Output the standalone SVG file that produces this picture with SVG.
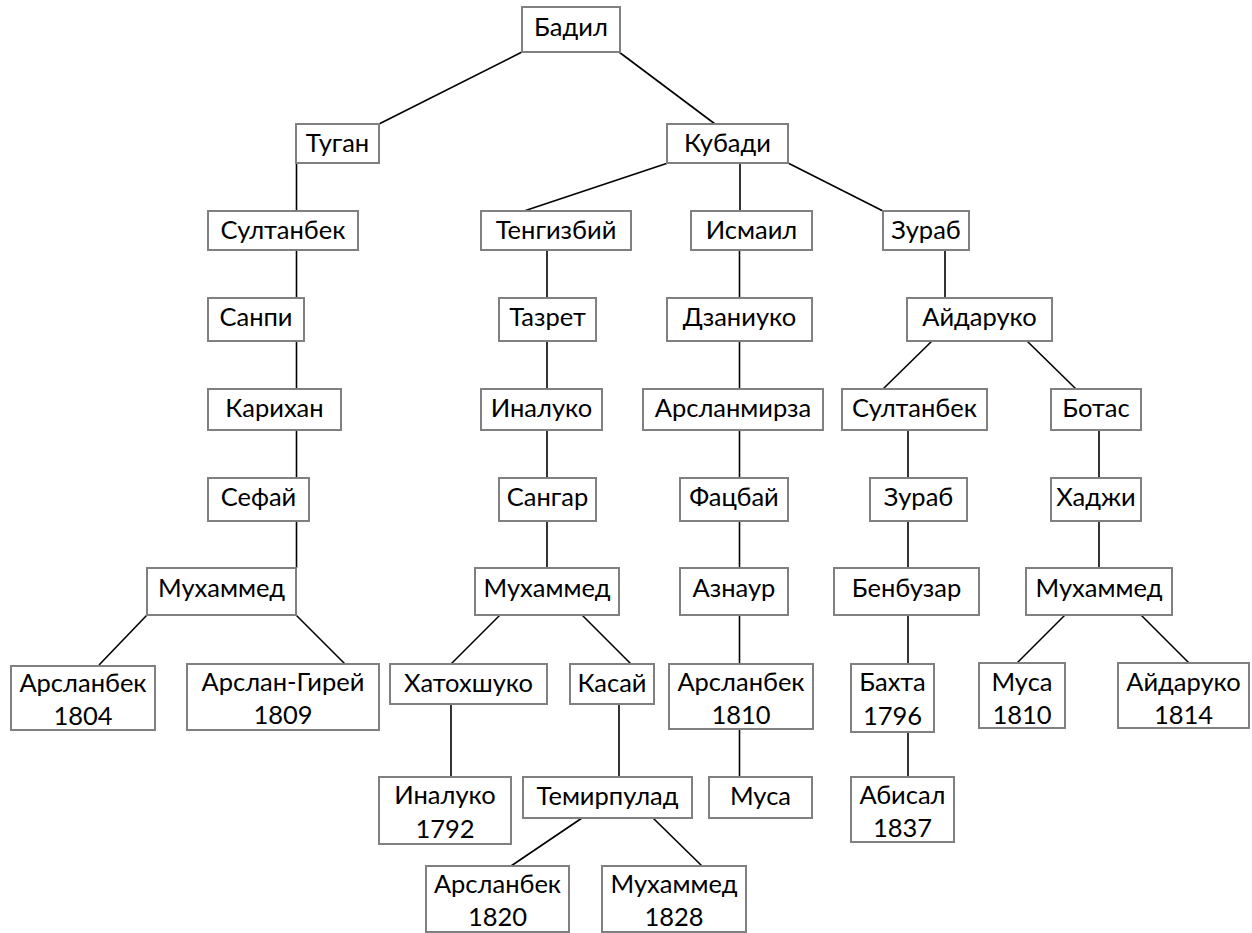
<svg xmlns="http://www.w3.org/2000/svg" width="1252" height="933" viewBox="0 0 1252 933">
<style>
.b{fill:#fff;stroke:#808080;stroke-width:2}
.t{font-family:Lato,"Open Sans","Liberation Sans",sans-serif;font-size:25.5px;fill:#000;text-anchor:middle}
#edges line{stroke:#000;stroke-width:1.6}
</style>
<rect width="1252" height="933" fill="#fff"/>
<g id="edges">
<line x1="522" y1="52" x2="379" y2="124"/>
<line x1="619" y1="52" x2="715" y2="124"/>
<line x1="296.5" y1="163" x2="296.5" y2="211"/>
<line x1="296.5" y1="250" x2="296.5" y2="298"/>
<line x1="296.5" y1="341" x2="296.5" y2="389"/>
<line x1="296.5" y1="430" x2="296.5" y2="478"/>
<line x1="296.5" y1="521" x2="296.5" y2="568"/>
<line x1="147" y1="615" x2="99" y2="665"/>
<line x1="296" y1="615" x2="345" y2="664"/>
<line x1="668" y1="163" x2="524" y2="211"/>
<line x1="740" y1="163" x2="740" y2="211"/>
<line x1="788" y1="163" x2="883" y2="211"/>
<line x1="547" y1="250" x2="547" y2="298"/>
<line x1="547" y1="341" x2="547" y2="389"/>
<line x1="547" y1="430" x2="547" y2="478"/>
<line x1="547" y1="521" x2="547" y2="568"/>
<line x1="500" y1="615" x2="451" y2="664"/>
<line x1="582" y1="615" x2="631" y2="664"/>
<line x1="451" y1="704" x2="451" y2="777"/>
<line x1="619" y1="704" x2="619" y2="777"/>
<line x1="582" y1="818" x2="511" y2="866"/>
<line x1="653" y1="818" x2="702" y2="866"/>
<line x1="739.5" y1="250" x2="739.5" y2="298"/>
<line x1="739.5" y1="341" x2="739.5" y2="389"/>
<line x1="739.5" y1="430" x2="739.5" y2="478"/>
<line x1="739.5" y1="521" x2="739.5" y2="568"/>
<line x1="739.5" y1="615" x2="739.5" y2="664"/>
<line x1="739.5" y1="729" x2="739.5" y2="777"/>
<line x1="945" y1="250" x2="945" y2="298"/>
<line x1="932" y1="341" x2="883" y2="389"/>
<line x1="1027" y1="341" x2="1076" y2="389"/>
<line x1="908" y1="430" x2="908" y2="478"/>
<line x1="908" y1="521" x2="908" y2="568"/>
<line x1="908" y1="615" x2="908" y2="664"/>
<line x1="908" y1="732" x2="908" y2="777"/>
<line x1="1099" y1="430" x2="1099" y2="478"/>
<line x1="1099" y1="521" x2="1099" y2="568"/>
<line x1="1065" y1="615" x2="1017" y2="663"/>
<line x1="1141" y1="615" x2="1189" y2="663"/>
</g>
<g id="n1"><rect class="b" x="522" y="7" width="98" height="45"/><text class="t" x="571" y="36">Бадил</text></g>
<g id="n2"><rect class="b" x="296" y="124" width="83" height="39"/><text class="t" x="337.5" y="152">Туган</text></g>
<g id="n3"><rect class="b" x="667" y="124" width="121" height="39"/><text class="t" x="727.5" y="152">Кубади</text></g>
<g id="n4"><rect class="b" x="208" y="211" width="150" height="39"/><text class="t" x="283" y="239">Султанбек</text></g>
<g id="n5"><rect class="b" x="208" y="298" width="96" height="43"/><text class="t" x="256" y="326">Санпи</text></g>
<g id="n6"><rect class="b" x="208" y="389" width="133" height="41"/><text class="t" x="274.5" y="417">Карихан</text></g>
<g id="n7"><rect class="b" x="208" y="478" width="101" height="43"/><text class="t" x="258.5" y="506">Сефай</text></g>
<g id="n8"><rect class="b" x="147" y="568" width="149" height="47"/><text class="t" x="221.5" y="597">Мухаммед</text></g>
<g id="n9"><rect class="b" x="11" y="666" width="144" height="64"/><text class="t" x="83" y="692">Арсланбек</text><text class="t" x="83" y="725">1804</text></g>
<g id="n10"><rect class="b" x="187" y="664" width="192" height="66"/><text class="t" x="283" y="691">Арслан-Гирей</text><text class="t" x="283" y="724">1809</text></g>
<g id="n11"><rect class="b" x="481" y="211" width="150" height="39"/><text class="t" x="556" y="239">Тенгизбий</text></g>
<g id="n12"><rect class="b" x="691" y="211" width="121" height="39"/><text class="t" x="751.5" y="239">Исмаил</text></g>
<g id="n13"><rect class="b" x="883" y="211" width="86" height="39"/><text class="t" x="926" y="239">Зураб</text></g>
<g id="n14"><rect class="b" x="499" y="298" width="97" height="43"/><text class="t" x="547.5" y="326">Тазрет</text></g>
<g id="n15"><rect class="b" x="667" y="298" width="145" height="43"/><text class="t" x="739.5" y="326">Дзаниуко</text></g>
<g id="n16"><rect class="b" x="907" y="298" width="145" height="43"/><text class="t" x="979.5" y="326">Айдаруко</text></g>
<g id="n17"><rect class="b" x="481" y="389" width="121" height="41"/><text class="t" x="541.5" y="417">Иналуко</text></g>
<g id="n18"><rect class="b" x="643" y="389" width="180" height="41"/><text class="t" x="733" y="417">Арсланмирза</text></g>
<g id="n19"><rect class="b" x="842" y="389" width="145" height="41"/><text class="t" x="914.5" y="417">Султанбек</text></g>
<g id="n20"><rect class="b" x="1051" y="389" width="90" height="41"/><text class="t" x="1096" y="417">Ботас</text></g>
<g id="n21"><rect class="b" x="499" y="478" width="97" height="43"/><text class="t" x="547.5" y="506">Сангар</text></g>
<g id="n22"><rect class="b" x="680" y="478" width="108" height="43"/><text class="t" x="734" y="506">Фацбай</text></g>
<g id="n23"><rect class="b" x="870" y="478" width="97" height="43"/><text class="t" x="918.5" y="506">Зураб</text></g>
<g id="n24"><rect class="b" x="1051" y="478" width="90" height="43"/><text class="t" x="1096" y="506">Хаджи</text></g>
<g id="n25"><rect class="b" x="475" y="568" width="144" height="47"/><text class="t" x="547" y="597">Мухаммед</text></g>
<g id="n26"><rect class="b" x="680" y="568" width="108" height="47"/><text class="t" x="734" y="597">Азнаур</text></g>
<g id="n27"><rect class="b" x="834" y="568" width="145" height="47"/><text class="t" x="906.5" y="597">Бенбузар</text></g>
<g id="n28"><rect class="b" x="1026" y="568" width="146" height="47"/><text class="t" x="1099" y="597">Мухаммед</text></g>
<g id="n29"><rect class="b" x="390" y="664" width="157" height="40"/><text class="t" x="468.5" y="692">Хатохшуко</text></g>
<g id="n30"><rect class="b" x="570" y="664" width="84" height="40"/><text class="t" x="612" y="692">Касай</text></g>
<g id="n31"><rect class="b" x="669" y="664" width="144" height="65"/><text class="t" x="741" y="691">Арсланбек</text><text class="t" x="741" y="724">1810</text></g>
<g id="n32"><rect class="b" x="851" y="664" width="83" height="68"/><text class="t" x="892.5" y="691">Бахта</text><text class="t" x="892.5" y="725">1796</text></g>
<g id="n33"><rect class="b" x="979" y="663" width="86" height="65"/><text class="t" x="1022" y="691">Муса</text><text class="t" x="1022" y="724">1810</text></g>
<g id="n34"><rect class="b" x="1118" y="663" width="131" height="65"/><text class="t" x="1183.5" y="691">Айдаруко</text><text class="t" x="1183.5" y="724">1814</text></g>
<g id="n35"><rect class="b" x="379" y="777" width="132" height="67"/><text class="t" x="445" y="804">Иналуко</text><text class="t" x="445" y="838">1792</text></g>
<g id="n36"><rect class="b" x="523" y="777" width="169" height="41"/><text class="t" x="607.5" y="805">Темирпулад</text></g>
<g id="n37"><rect class="b" x="709" y="777" width="103" height="41"/><text class="t" x="760.5" y="805">Муса</text></g>
<g id="n38"><rect class="b" x="851" y="777" width="103" height="65"/><text class="t" x="902.5" y="804">Абисал</text><text class="t" x="902.5" y="837">1837</text></g>
<g id="n39"><rect class="b" x="426" y="866" width="143" height="66"/><text class="t" x="497.5" y="893">Арсланбек</text><text class="t" x="497.5" y="926">1820</text></g>
<g id="n40"><rect class="b" x="602" y="866" width="144" height="66"/><text class="t" x="674" y="893">Мухаммед</text><text class="t" x="674" y="926">1828</text></g>
</svg>
